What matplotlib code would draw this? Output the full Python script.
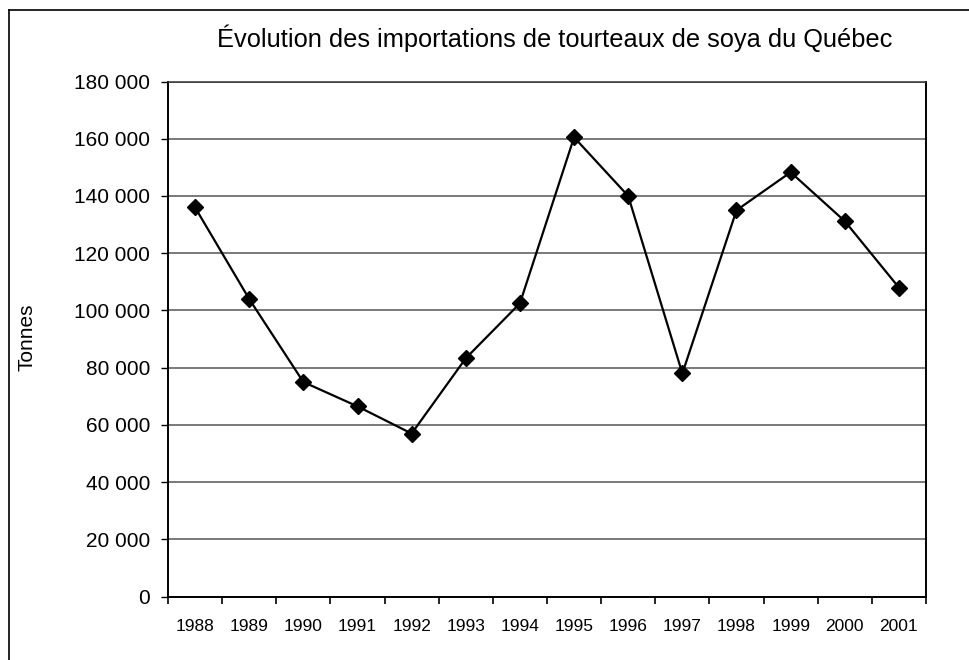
import matplotlib
matplotlib.use("Agg")
import matplotlib.pyplot as plt
from matplotlib.lines import Line2D
import numpy as np

plt.rcParams["font.family"] = ["Liberation Sans", "DejaVu Sans"]

# ── Data ──────────────────────────────────────────────────────────────────────
years = ["1988", "1989", "1990", "1991", "1992", "1993", "1994",
         "1995", "1996", "1997", "1998", "1999", "2000", "2001"]
tonnes = [136000, 104000, 75000, 66500, 57000, 83300, 102500,
          160500, 140000, 78000, 135000, 148300, 131200, 108000]
y_ticks = [0, 20000, 40000, 60000, 80000, 100000, 120000, 140000, 160000, 180000]
y_tick_labels = ["0", "20 000", "40 000", "60 000", "80 000", "100 000",
                 "120 000", "140 000", "160 000", "180 000"]

W, H = 969, 660
fig = plt.figure(figsize=(W / 100, H / 100), dpi=100)
fig.patch.set_facecolor("white")

# plot area in pixel coords
x0, x1, y_top, y_bot = 168, 926, 81.5, 596.7
ax = fig.add_axes([x0 / W, 1 - y_bot / H, (x1 - x0) / W, (y_bot - y_top) / H])

x = np.arange(len(years))
ax.plot(x, tonnes, color="black", linewidth=1.6, marker="D",
        markersize=8, markerfacecolor="black", markeredgecolor="black", zorder=3)

ax.set_xlim(-0.5, len(years) - 0.5)
ax.set_ylim(0, 180000)

ax.set_yticks(y_ticks)
ax.set_yticklabels(y_tick_labels, fontsize=15)
ax.yaxis.grid(True, color="#555555", linewidth=1.1)
ax.set_axisbelow(True)

# category axis: ticks between categories, labels at the centres
ax.set_xticks(np.arange(-0.5, len(years), 1.0))
ax.set_xticklabels([])
ax.set_xticks(x, minor=True)
ax.set_xticklabels(years, minor=True, fontsize=12.5)
ax.tick_params(axis="x", which="minor", length=0, pad=16)
ax.tick_params(axis="x", which="major", length=5, width=1.2, direction="out")
ax.tick_params(axis="y", length=5, width=1.0, direction="out", pad=8)

for side in ["left", "bottom", "right"]:
    ax.spines[side].set_color("black")
    ax.spines[side].set_linewidth(1.4)
ax.spines["top"].set_color("#333333")
ax.spines["top"].set_linewidth(1.1)

fig.text(27 / W, 1 - 337 / H, "Tonnes", rotation=90, ha="center", va="center",
         fontsize=15)

fig.text(555 / W, 1 - 38 / H, "Évolution des importations de tourteaux de soya du Québec",
         ha="center", va="center", fontsize=18.3)

# scanned outer frame (left and top edges visible)
fig.add_artist(Line2D([9 / W, 9 / W], [0, 1 - 10 / H], transform=fig.transFigure,
                      color="black", linewidth=1.2))
fig.add_artist(Line2D([9 / W, 1], [1 - 10 / H, 1 - 10 / H], transform=fig.transFigure,
                      color="black", linewidth=1.2))

fig.savefig("out.png", dpi=100)
